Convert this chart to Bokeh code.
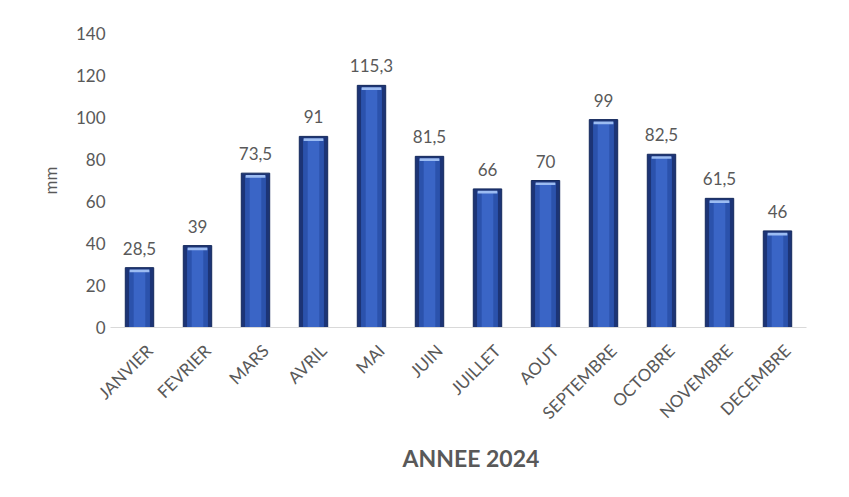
import math
from bokeh.plotting import figure
from bokeh.models import (ColumnDataSource, LabelSet, FixedTicker, Range1d,
                          CustomJSTickFormatter, Title)
from bokeh.core.properties import value
from bokeh.embed import file_html
from bokeh.resources import INLINE

months = ["JANVIER", "FEVRIER", "MARS", "AVRIL", "MAI", "JUIN", "JUILLET",
          "AOUT", "SEPTEMBRE", "OCTOBRE", "NOVEMBRE", "DECEMBRE"]
rain_mm = [28.5, 39, 73.5, 91, 115.3, 81.5, 66, 70, 99, 82.5, 61.5, 46]
y_ticks = [0, 20, 40, 60, 80, 100, 120, 140]
x_title = "ANNEE 2024"
y_title = "mm"

FONT = "Lato"
TXT = "#595959"
LABEL_SHIFT = 0.17   # rotated month labels sit slightly right of bar centres

idx = list(range(len(months)))
labels = [("%g" % v).replace(".", ",") for v in rain_mm]
src = ColumnDataSource(dict(
    x=idx, m=months, v=rain_mm, lab=labels,
    inner_top=[v - 1.3 for v in rain_mm],
    hl_top=[v - 0.9 for v in rain_mm],
    hl_bot=[v - 2.2 for v in rain_mm],
))

p = figure(width=841, height=489, x_range=Range1d(-0.5, len(months) - 0.5),
           y_range=Range1d(0, 140), output_backend="svg", toolbar_location=None,
           min_border_left=110, min_border_right=35, min_border_top=33,
           min_border_bottom=162)
p.outline_line_color = None
p.grid.grid_line_color = None
p.background_fill_color = "white"
p.border_fill_color = "white"

# bevelled bar look
p.vbar(x="x", top="v", bottom=0, width=0.49, source=src,
       fill_color="#1c3476", line_color="#152a5c", line_width=1)
p.vbar(x="x", top="inner_top", bottom=0, width=0.36, source=src,
       fill_color="#2b52ac", line_color=None)
p.vbar(x="x", top="inner_top", bottom=0, width=0.2, source=src,
       fill_color="#3a65c6", line_color=None)
p.vbar(x="x", top="hl_top", bottom="hl_bot", width=0.34, source=src,
       fill_color="#9cbcf2", line_color=None)

lbl = LabelSet(x="x", y="v", text="lab", source=src, text_align="center",
               text_baseline="bottom", y_offset=13, text_font=value(FONT),
               text_font_size="17px", text_color=TXT)
p.add_layout(lbl)

ya = p.yaxis[0]
ya.ticker = FixedTicker(ticks=y_ticks)
ya.axis_line_color = None
ya.major_tick_line_color = None
ya.minor_tick_line_color = None
ya.major_tick_out = 0
ya.major_label_standoff = 5
ya.major_label_text_font = FONT
ya.major_label_text_font_size = "17px"
ya.major_label_text_color = TXT
ya.axis_label = y_title
ya.axis_label_text_font = FONT
ya.axis_label_text_font_style = "normal"
ya.axis_label_text_font_size = "17px"
ya.axis_label_text_color = TXT
ya.axis_label_standoff = 12

xa = p.xaxis[0]
xa.ticker = FixedTicker(ticks=[i + LABEL_SHIFT for i in idx])
xa.formatter = CustomJSTickFormatter(
    args=dict(names=months, shift=LABEL_SHIFT),
    code="return names[Math.round(tick - shift)];")
xa.axis_line_color = "#d9d9d9"
xa.axis_line_width = 1
xa.major_tick_line_color = None
xa.minor_tick_line_color = None
xa.major_tick_out = 0
xa.major_label_orientation = math.pi / 4
xa.major_label_standoff = 20
xa.major_label_text_font = FONT
xa.major_label_text_font_size = "17px"
xa.major_label_text_color = TXT

t = Title(text=x_title, align="left", offset=292, standoff=16,
          text_font=FONT, text_font_style="bold", text_font_size="23px",
          text_color=TXT)
p.add_layout(t, "below")

open("out.html", "w").write(file_html(p, INLINE))
